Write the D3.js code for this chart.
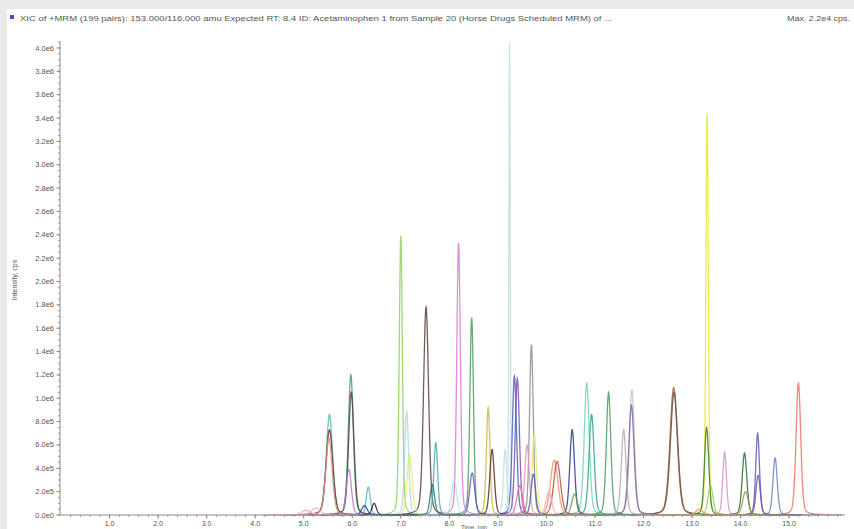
<!DOCTYPE html>
<html><head><meta charset="utf-8">
<script src="https://cdn.jsdelivr.net/npm/d3@7/dist/d3.min.js"></script>
<style>
html,body{margin:0;padding:0;background:#e9e9e9;}
svg{display:block;font-family:Arial,"Liberation Sans",sans-serif;}
</style></head>
<body>
<svg id="c" width="854" height="529"></svg>
<script>
// ---- data ----
const titleText = "XIC of +MRM (199 pairs): 153.000/116.000 amu Expected RT: 8.4 ID: Acetaminophen 1 from Sample 20 (Horse Drugs  Scheduled MRM) of ...";
const maxText = "Max. 2.2e4 cps.";
const xTitle = "Time, min";
const yTitle = "Intensity, cps";
const xTickValues = [1,2,3,4,5,6,7,8,9,10,11,12,13,14,15];
const xTickLabels = ["1.0","2.0","3.0","4.0","5.0","6.0","7.0","8.0","9.0","10.0","11.0","12.0","13.0","14.0","15.0"];
const yTickValues = [0,2e5,4e5,6e5,8e5,1e6,1.2e6,1.4e6,1.6e6,1.8e6,2e6,2.2e6,2.4e6,2.6e6,2.8e6,3e6,3.2e6,3.4e6,3.6e6,3.8e6,4e6];
const yTickLabels = ["0.0e0","2.0e5","4.0e5","6.0e5","8.0e5","1.0e6","1.2e6","1.4e6","1.6e6","1.8e6","2.0e6","2.2e6","2.4e6","2.6e6","2.8e6","3.0e6","3.2e6","3.4e6","3.6e6","3.8e6","4.0e6"];

// peaks: retention time (min), height (cps), width sigma (min), colour index
const peakRT     = [5.05, 5.25, 5.53, 5.53, 5.52, 5.93, 5.97, 5.98, 6.25, 6.33, 6.45, 7.00, 7.12, 7.18, 7.52, 7.65, 7.72, 8.10, 8.19, 8.46, 8.47, 8.80, 8.88, 9.15, 9.24, 9.34, 9.40, 9.45, 9.60, 9.69, 9.73, 9.75, 10.05, 10.16, 10.22, 10.53, 10.58, 10.83, 10.93, 11.28, 11.59, 11.75, 11.76, 12.62, 12.63, 13.15, 13.30, 13.31, 13.38, 13.67, 14.08, 14.10, 14.35, 14.36, 14.71, 15.19];
const peakHeight = [4e4, 6e4, 8.6e5, 7.3e5, 6.6e5, 3.9e5, 1.2e6, 1.05e6, 8e4, 2.4e5, 1e5, 2.39e6, 8.9e5, 5.1e5, 1.78e6, 2.6e5, 6.2e5, 3e5, 2.33e6, 1.69e6, 3.6e5, 9.2e5, 5.6e5, 5.6e5, 4.05e6, 1.19e6, 1.17e6, 2.5e5, 6e5, 1.46e6, 3.5e5, 6.9e5, 2e5, 4.7e5, 4.6e5, 7.3e5, 1.8e5, 1.13e6, 8.6e5, 1.05e6, 7.3e5, 9.4e5, 1.07e6, 1.09e6, 1.05e6, 5e4, 7.5e5, 3.44e6, 2.5e5, 5.4e5, 5.3e5, 2e5, 7e5, 3.4e5, 4.9e5, 1.13e6];
const peakSigma  = [0.09, 0.09, 0.065, 0.07, 0.065, 0.052, 0.052, 0.055, 0.058, 0.042, 0.046, 0.032, 0.04, 0.052, 0.052, 0.046, 0.04, 0.052, 0.037, 0.037, 0.052, 0.037, 0.046, 0.035, 0.014, 0.044, 0.044, 0.058, 0.046, 0.038, 0.046, 0.046, 0.058, 0.075, 0.07, 0.048, 0.058, 0.052, 0.052, 0.046, 0.048, 0.055, 0.052, 0.075, 0.075, 0.07, 0.044, 0.025, 0.052, 0.038, 0.048, 0.058, 0.038, 0.044, 0.044, 0.048];
const peakColor  = [0, 0, 1, 2, 3, 4, 5, 2, 6, 7, 8, 9, 10, 11, 2, 12, 13, 14, 15, 16, 17, 18, 19, 14, 20, 21, 22, 23, 24, 25, 17, 11, 0, 26, 27, 6, 28, 29, 30, 16, 31, 32, 33, 34, 35, 26, 36, 37, 9, 38, 39, 40, 17, 22, 41, 42];
const palette = ["#f4a6bd","#55b8ad","#5a3f3a","#e0877a","#b07ccc","#3f9f80","#2d3a8c","#5cb4d2","#222222","#93cf5c","#a9d9ea","#e6ea6e","#2f6e6c","#4daab4","#b9e2e3","#d67bd2","#4f9a5c","#5a5cb8","#c8bd3c","#5a2c2c","#c6d9de","#4662b8","#7b4cb2","#e07492","#e994ad","#8d8d8d","#f09472","#b4523f","#5aa252","#72d2c2","#38a07f","#b2aab3","#80619f","#c2c2c2","#a4643f","#6d5448","#3b7a3a","#e8e62e","#d892cb","#2b6a3c","#9a9a3c","#7080c2","#ea735f"];

// ---- layout ----
const svg = d3.select("#c");
svg.append("rect").attr("x",7).attr("y",9).attr("width",847).attr("height",520).attr("fill","#ffffff");

const x = d3.scaleLinear().domain([0, 16.15]).range([61, 845]);
const y = d3.scaleLinear().domain([0, 4.06e6]).range([515, 41]);

// header
svg.append("rect").attr("x",10).attr("y",15).attr("width",4).attr("height",4).attr("fill","#4c4cc8");
svg.append("text").attr("x",20).attr("y",20.5).attr("font-size",8).attr("fill","#555")
  .attr("textLength",592).attr("lengthAdjust","spacingAndGlyphs").text(titleText);
svg.append("text").attr("x",850).attr("y",20.5).attr("font-size",8).attr("fill","#555").attr("text-anchor","end")
  .attr("textLength",63).attr("lengthAdjust","spacingAndGlyphs").text(maxText);

// traces
function shape(t, rt, s){
  const d = (t-rt)/s;
  const g = Math.exp(-0.5*d*d);
  const l = 1/(1+0.5*d*d*1.386);
  return 0.75*g + 0.25*l;
}
const line = d3.line().x(d=>x(d[0])).y(d=>y(d[1])).curve(d3.curveLinear);
const traces = svg.append("g");
const order = d3.range(peakRT.length).sort((a,b)=>peakHeight[b]-peakHeight[a]);
order.forEach(i=>{
  const rt = peakRT[i], h = peakHeight[i], s = peakSigma[i];
  const t0 = rt-0.9, t1 = rt+0.9, pts=[];
  for(let t=t0; t<=t1+1e-9; t+=0.004) pts.push([t, h*shape(t, rt, s)]);
  traces.append("path").attr("d", line(pts)).attr("fill","none")
    .attr("stroke", palette[peakColor[i]]).attr("stroke-width",1.3).attr("stroke-opacity",0.85);
});

// axes
const gx = svg.append("g").attr("transform","translate(0,515)");
gx.append("line").attr("x1",60).attr("x2",845).attr("y1",0).attr("y2",0).attr("stroke","#8a8a8a").attr("stroke-width",1);
gx.selectAll("line.minor").data(d3.range(0.2,16.1,0.2)).enter().append("line").attr("class","minor")
  .attr("x1",d=>x(d)).attr("x2",d=>x(d)).attr("y1",0).attr("y2",2).attr("stroke","#999");
gx.selectAll("line.major").data(xTickValues).enter().append("line").attr("class","major")
  .attr("x1",d=>x(d)).attr("x2",d=>x(d)).attr("y1",0).attr("y2",3.5).attr("stroke","#888");
gx.selectAll("text").data(xTickValues).enter().append("text")
  .attr("x",d=>x(d)).attr("y",10.5).attr("font-size",7).attr("fill","#555").attr("text-anchor","middle")
  .text((d,i)=>xTickLabels[i]);
svg.append("text").attr("x",474).attr("y",528.5).attr("font-size",6).attr("fill","#555").attr("text-anchor","middle").text(xTitle);

const gy = svg.append("g");
gy.append("line").attr("x1",60).attr("x2",60).attr("y1",41).attr("y2",515).attr("stroke","#8a8a8a");
gy.selectAll("line.minor").data(d3.range(0,4.06e6,5e4)).enter().append("line").attr("class","minor")
  .attr("x1",58).attr("x2",60).attr("y1",d=>y(d)).attr("y2",d=>y(d)).attr("stroke","#999");
gy.selectAll("line.major").data(yTickValues).enter().append("line").attr("class","major")
  .attr("x1",56.5).attr("x2",60).attr("y1",d=>y(d)).attr("y2",d=>y(d)).attr("stroke","#888");
gy.selectAll("text").data(yTickValues).enter().append("text")
  .attr("x",54).attr("y",d=>y(d)+2.5).attr("font-size",7.5).attr("fill","#555").attr("text-anchor","end")
  .text((d,i)=>yTickLabels[i]);
svg.append("text").attr("transform","translate(17,280) rotate(-90)").attr("font-size",7).attr("fill","#555")
  .attr("text-anchor","middle").text(yTitle);
</script>
</body></html>
